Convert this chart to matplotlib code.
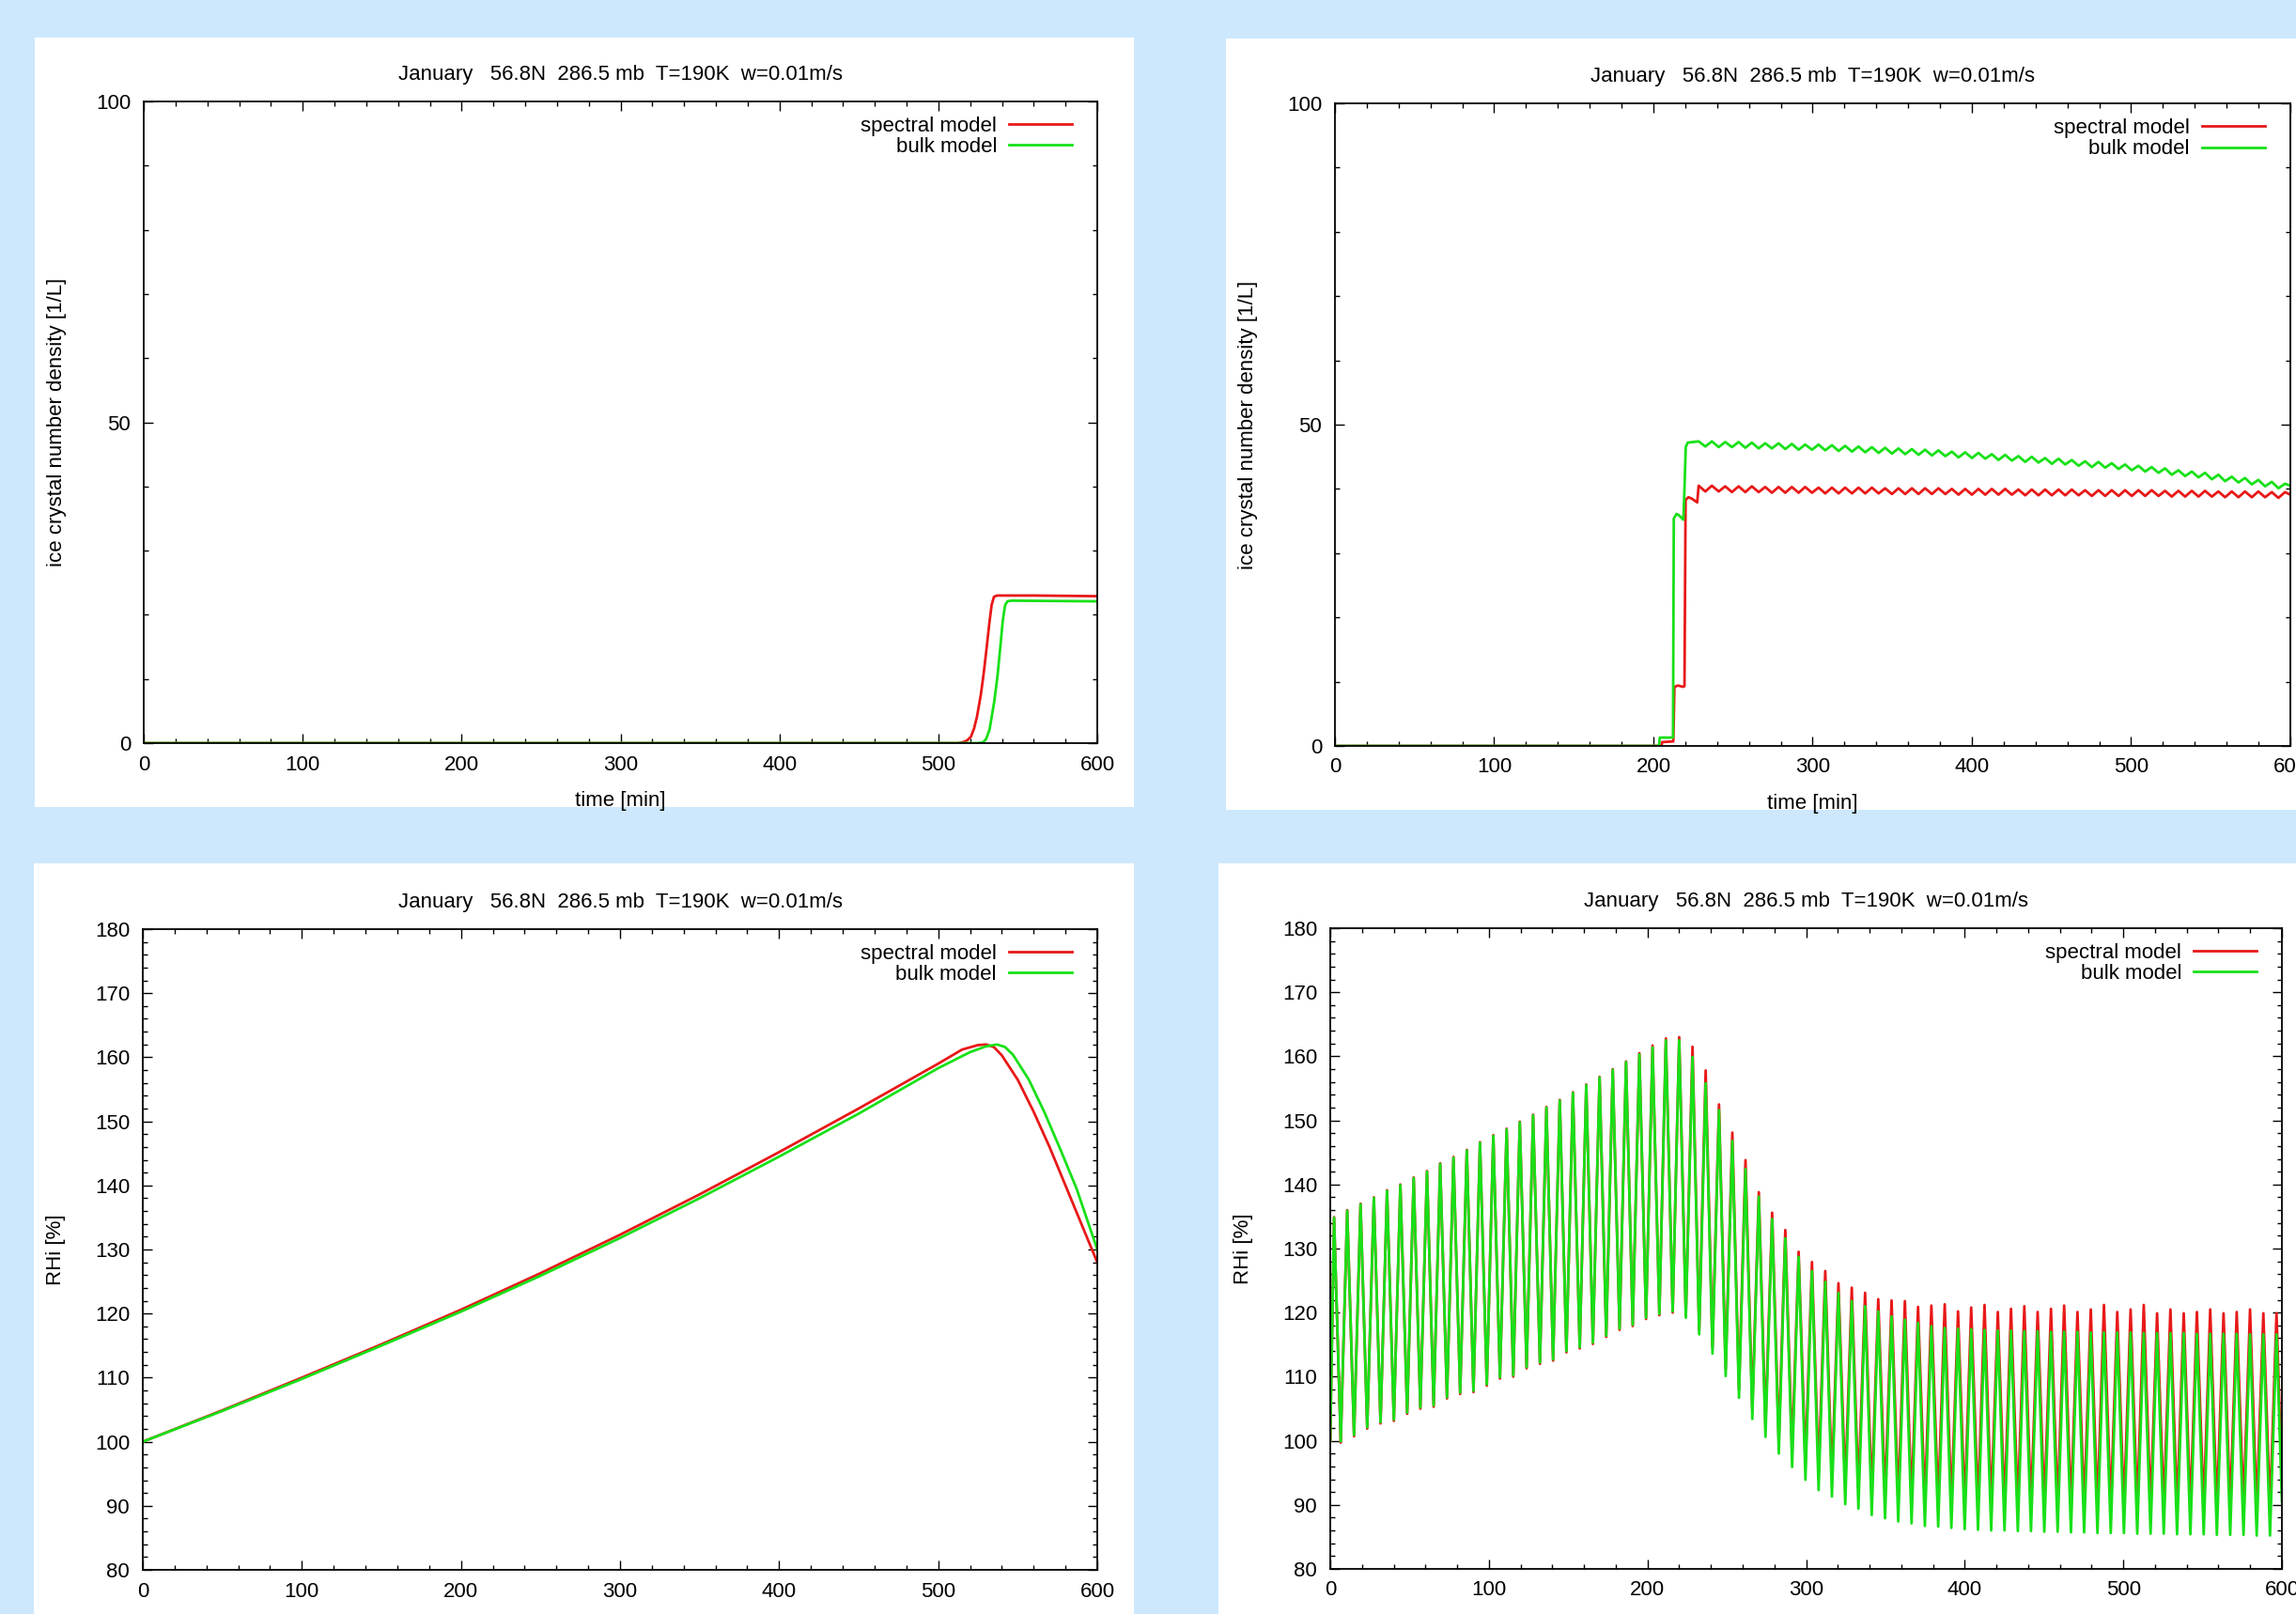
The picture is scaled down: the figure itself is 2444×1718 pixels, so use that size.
import numpy as np
import matplotlib
matplotlib.use("Agg")
import matplotlib.pyplot as plt
from matplotlib.patches import Rectangle
from matplotlib.ticker import MultipleLocator

plt.rcParams["font.family"] = ["Liberation Sans", "DejaVu Sans"]
plt.rcParams["font.size"] = 16

# ---- data ----
title = "January   56.8N  286.5 mb  T=190K  w=0.01m/s"
labels = ["spectral model", "bulk model"]
colors = ["#e81818", "#18e018"]

# panel 1: steady case, ice crystal number density
t1_red = [0, 512, 515, 518, 520.5, 522.5, 524.3, 526.7, 528.3, 530, 532, 533.5, 535, 537, 560, 600]
n1_red = [0, 0, 0.1, 0.4, 1.0, 2.3, 4.1, 7.5, 10.4, 14.0, 18.5, 21.5, 22.8, 23.0, 23.0, 22.9]
t1_green = [0, 525, 528, 530, 532.2, 535.2, 537.2, 539, 540.5, 542, 543.5, 546, 600]
n1_green = [0, 0, 0.1, 0.6, 2.1, 6.5, 10.4, 15.0, 19.0, 21.5, 22.1, 22.2, 22.1]

# panel 3: steady case, RHi
t3_red = [0, 50, 100, 150, 200, 250, 300, 350, 400, 450, 500, 515, 525, 530, 535, 540,
          550, 560, 570, 580, 590, 600]
rhi3_red = [100, 104.9, 110.0, 115.2, 120.6, 126.3, 132.3, 138.6, 145.2, 152.0, 159.0, 161.2,
            161.9, 162.0, 161.6, 160.3, 156.5, 151.5, 146.0, 140.0, 134.0, 128.0]
t3_green = [0, 50, 100, 150, 200, 250, 300, 350, 400, 450, 500, 520, 530, 537, 542, 547,
            557, 567, 577, 587, 600]
rhi3_green = [100, 104.8, 109.8, 115.0, 120.3, 125.9, 131.8, 138.0, 144.5, 151.2, 158.3, 160.8,
              161.7, 162.0, 161.6, 160.4, 156.5, 151.3, 145.5, 139.5, 130.0]

# wave case: times of the RHi maxima and minima
t_peak = [2.4, 10.7, 19.1, 27.5, 35.8, 44.2, 52.6, 61.0, 69.3, 77.7,
          86.1, 94.4, 102.8, 111.2, 119.5, 127.9, 136.3, 144.7, 153.0, 161.4,
          169.8, 178.1, 186.5, 194.9, 203.2, 211.6, 220.0, 228.4, 236.7, 245.1,
          253.5, 261.8, 270.2, 278.6, 286.9, 295.3, 303.7, 312.1, 320.4, 328.8,
          337.2, 345.5, 353.9, 362.3, 370.6, 379.0, 387.4, 395.8, 404.1, 412.5,
          420.9, 429.2, 437.6, 446.0, 454.4, 462.7, 471.1, 479.5, 487.8, 496.2,
          504.6, 512.9, 521.3, 529.7, 538.1, 546.4, 554.8, 563.2, 571.5, 579.9,
          588.3, 596.6]
t_trough = [6.6, 15.0, 23.3, 31.7, 40.1, 48.5, 56.8, 65.2, 73.6, 81.9,
            90.3, 98.7, 107.0, 115.4, 123.8, 132.2, 140.5, 148.9, 157.3, 165.6,
            174.0, 182.4, 190.7, 199.1, 207.5, 215.9, 224.2, 232.6, 241.0, 249.3,
            257.7, 266.1, 274.4, 282.8, 291.2, 299.6, 307.9, 316.3, 324.7, 333.0,
            341.4, 349.8, 358.1, 366.5, 374.9, 383.3, 391.6, 400.0, 408.4, 416.7,
            425.1, 433.5, 441.8, 450.2, 458.6, 467.0, 475.3, 483.7, 492.1, 500.4,
            508.8, 517.2, 525.5, 533.9, 542.3, 550.7, 559.0, 567.4, 575.8, 584.1,
            592.5]

# panel 4: wave case, RHi maxima / minima
rhi4_green_max = [134.8, 135.9, 136.9, 137.9, 139.0, 139.9, 141.0, 142.0, 143.2, 144.2,
                  145.3, 146.5, 147.6, 148.6, 149.7, 150.8, 152.0, 153.1, 154.3, 155.5,
                  156.7, 157.9, 159.1, 160.3, 161.4, 162.5, 162.5, 159.9, 155.8, 151.6,
                  146.8, 142.4, 138.1, 134.6, 131.6, 128.7, 126.5, 124.8, 123.1, 121.8,
                  121.0, 120.2, 119.4, 118.9, 118.4, 117.9, 117.6, 117.5, 117.4, 117.3,
                  117.2, 117.2, 117.1, 117.1, 117.0, 117.0, 117.0, 116.9, 116.9, 116.9,
                  116.9, 116.8, 116.8, 116.8, 116.8, 116.7, 116.7, 116.7, 116.7, 116.6,
                  116.6, 116.6]
rhi4_red_max = [134.9, 136.0, 137.0, 138.0, 139.1, 140.0, 141.1, 142.1, 143.3, 144.3,
                145.4, 146.6, 147.7, 148.7, 149.8, 150.9, 152.1, 153.2, 154.4, 155.6,
                156.8, 158.0, 159.2, 160.5, 161.7, 162.8, 163.0, 161.5, 157.8, 152.5,
                148.1, 143.8, 138.8, 135.6, 132.9, 129.5, 127.9, 126.5, 124.6, 123.9,
                123.1, 122.1, 121.9, 121.8, 120.9, 121.1, 121.3, 120.2, 120.8, 121.2,
                120.1, 120.6, 121.0, 120.1, 120.6, 121.1, 120.1, 120.5, 121.2, 120.1,
                120.5, 121.2, 119.9, 120.5, 119.9, 120.1, 120.5, 119.9, 120.1, 120.5,
                119.9, 119.9]
rhi4_green_min = [99.9, 100.9, 102.1, 102.9, 103.3, 104.4, 105.2, 105.5, 106.8, 107.5,
                  107.8, 108.8, 109.9, 110.2, 111.5, 112.2, 112.7, 114.0, 114.6, 115.3,
                  116.4, 117.5, 118.1, 119.2, 119.8, 120.2, 119.2, 116.6, 113.6, 110.1,
                  106.7, 103.4, 100.6, 98.0, 95.9, 93.9, 92.3, 91.3, 90.1, 89.4,
                  88.4, 87.9, 87.4, 87.1, 86.7, 86.6, 86.4, 86.2, 86.1, 86.0,
                  86.0, 85.9, 85.9, 85.8, 85.8, 85.7, 85.7, 85.6, 85.6, 85.6,
                  85.5, 85.5, 85.5, 85.4, 85.4, 85.4, 85.3, 85.3, 85.3, 85.2,
                  85.2]
rhi4_red_min = [99.7, 100.7, 101.9, 102.7, 103.1, 104.2, 105.0, 105.3, 106.6, 107.3,
                107.6, 108.6, 109.7, 110.0, 111.3, 112.0, 112.5, 113.8, 114.4, 115.1,
                116.2, 117.3, 117.9, 119.0, 119.6, 120.0, 119.5, 117.2, 114.5, 111.2,
                108.0, 105.0, 102.4, 100.0, 98.2, 96.4, 95.0, 94.0, 93.0, 92.4,
                91.6, 91.2, 90.8, 90.6, 90.3, 90.2, 90.0, 89.9, 89.9, 89.9,
                89.8, 89.8, 89.8, 89.8, 89.7, 89.7, 89.7, 89.7, 89.7, 89.6,
                89.6, 89.6, 89.6, 89.6, 89.5, 89.5, 89.5, 89.5, 89.5, 89.4,
                89.4]
rhi4_start = [100.0, 100.0]   # red, green at t = 0
rhi4_end = [93.0, 90.5]       # red, green at t = 600

# panel 2: wave case, ice crystal number density
t2_red_rise = [0, 205, 205.5, 212.5, 213.2, 215.5, 218.5, 219.5, 220.2, 222, 224, 227.5]
n2_red_rise = [0, 0, 0.6, 0.7, 9.2, 9.4, 9.2, 9.3, 38.3, 38.7, 38.5, 37.9]
t2_green_rise = [0, 203.5, 204, 212.3, 212.8, 214.5, 216, 218.8, 219.5, 220.3, 221.5]
n2_green_rise = [0, 0, 1.3, 1.3, 35.4, 36.1, 35.9, 35.2, 40.0, 46.5, 47.2]
# wiggles after 228 min (high values at t_peak[27:], low values at t_trough[27:])
n2_green_hi = [47.4, 47.4, 47.3, 47.3, 47.2, 47.1, 47.1, 47.0, 46.9, 46.9, 46.8, 46.7,
               46.6, 46.5, 46.4, 46.3, 46.2, 46.1, 46.0, 45.8, 45.7, 45.6, 45.4, 45.3,
               45.1, 45.0, 44.8, 44.7, 44.5, 44.3, 44.2, 44.0, 43.8, 43.6, 43.4, 43.2,
               42.9, 42.7, 42.5, 42.2, 41.9, 41.7, 41.4, 41.1, 40.8]
n2_green_lo = [46.6, 46.5, 46.5, 46.4, 46.3, 46.3, 46.2, 46.1, 46.1, 46.0, 45.9, 45.8,
               45.7, 45.6, 45.5, 45.4, 45.3, 45.2, 45.1, 44.9, 44.8, 44.7, 44.5, 44.4,
               44.2, 44.1, 43.9, 43.8, 43.6, 43.4, 43.3, 43.1, 42.9, 42.7, 42.5, 42.2,
               42.0, 41.8, 41.5, 41.2, 41.0, 40.7, 40.4, 40.1]
n2_red_hi = [40.5, 40.5, 40.4, 40.4, 40.4, 40.3, 40.3, 40.3, 40.3, 40.2, 40.2, 40.2,
             40.2, 40.2, 40.1, 40.1, 40.1, 40.1, 40.1, 40.0, 40.0, 40.0, 40.0, 40.0,
             39.9, 39.9, 39.9, 39.9, 39.9, 39.8, 39.8, 39.8, 39.8, 39.8, 39.8, 39.7,
             39.7, 39.7, 39.7, 39.6, 39.6, 39.6, 39.6, 39.5, 39.5]
n2_red_lo = [39.6, 39.6, 39.5, 39.5, 39.5, 39.4, 39.4, 39.4, 39.4, 39.3, 39.3, 39.3,
             39.3, 39.3, 39.2, 39.2, 39.2, 39.2, 39.2, 39.1, 39.1, 39.1, 39.1, 39.1,
             39.0, 39.0, 39.0, 39.0, 39.0, 38.9, 38.9, 38.9, 38.9, 38.9, 38.9, 38.8,
             38.8, 38.8, 38.8, 38.7, 38.7, 38.7, 38.7, 38.6]
n2_end = [39.1, 40.5]         # red, green at t = 600


def join(*parts):
    # put (t, value) pieces together in time order
    t = np.concatenate([np.asarray(p[0], float) for p in parts])
    v = np.concatenate([np.asarray(p[1], float) for p in parts])
    order = np.argsort(t, kind="stable")
    return t[order], v[order]


# ---- layout (pixels of the 2444x1718 picture) ----
W, H = 2444, 1718
bg = "#cde8fd"

fig = plt.figure(figsize=(W / 100, H / 100), dpi=100, facecolor=bg)

panels = [(37, 40, 1207, 859), (1305, 41, 2460, 862),
          (36, 919, 1207, 1730), (1297, 919, 2460, 1730)]
for x0, y0, x1, y1 in panels:
    fig.add_artist(Rectangle((x0 / W, 1 - y1 / H), (x1 - x0) / W, (y1 - y0) / H,
                             transform=fig.transFigure, facecolor="white",
                             edgecolor="none", zorder=0))

boxes = [(153, 108, 1168, 791), (1421, 110, 2438, 794),
         (152, 989, 1168, 1671), (1416, 988, 2429, 1670)]
axes = []
for x0, y0, x1, y1 in boxes:
    ax = fig.add_axes([x0 / W, 1 - y1 / H, (x1 - x0) / W, (y1 - y0) / H])
    axes.append(ax)

ax1, ax2, ax3, ax4 = axes
lw = 2.0

# panel 1
ax1.plot(t1_red, n1_red, color=colors[0], lw=lw, label=labels[0])
ax1.plot(t1_green, n1_green, color=colors[1], lw=lw, label=labels[1])

# panel 2
tr, vr = join((t2_red_rise, n2_red_rise), (t_peak[27:], n2_red_hi),
              (t_trough[27:], n2_red_lo), ([600], n2_end[:1]))
tg, vg = join((t2_green_rise, n2_green_rise), (t_peak[27:], n2_green_hi),
              (t_trough[27:], n2_green_lo), ([600], n2_end[1:]))
ax2.plot(tr, vr, color=colors[0], lw=lw, label=labels[0])
ax2.plot(tg, vg, color=colors[1], lw=lw, label=labels[1])

# panel 3
ax3.plot(t3_red, rhi3_red, color=colors[0], lw=lw, label=labels[0])
ax3.plot(t3_green, rhi3_green, color=colors[1], lw=lw, label=labels[1])

# panel 4
tr, vr = join(([0], rhi4_start[:1]), (t_peak, rhi4_red_max),
              (t_trough, rhi4_red_min), ([600], rhi4_end[:1]))
tg, vg = join(([0], rhi4_start[1:]), (t_peak, rhi4_green_max),
              (t_trough, rhi4_green_min), ([600], rhi4_end[1:]))
ax4.plot(tr, vr, color=colors[0], lw=lw, label=labels[0])
ax4.plot(tg, vg, color=colors[1], lw=lw, label=labels[1])

for i, ax in enumerate(axes):
    top = i < 2
    ax.set_xlim(0, 600)
    ax.xaxis.set_major_locator(MultipleLocator(100))
    ax.xaxis.set_minor_locator(MultipleLocator(20))
    if top:
        ax.set_ylim(0, 100)
        ax.yaxis.set_major_locator(MultipleLocator(50))
        ax.yaxis.set_minor_locator(MultipleLocator(10))
        ax.set_ylabel("ice crystal number density [1/L]")
    else:
        ax.set_ylim(80, 180)
        ax.yaxis.set_major_locator(MultipleLocator(10))
        ax.yaxis.set_minor_locator(MultipleLocator(2))
        ax.set_ylabel("RHi [%]")
    ax.yaxis.set_label_coords(-0.081, 0.5)
    ax.set_xlabel("time [min]", labelpad=12.5)
    ax.set_title(title, pad=16.5, fontsize=16)
    ax.tick_params(which="both", direction="in", top=True, right=True, width=1.0)
    ax.tick_params(which="major", length=7)
    ax.tick_params(which="minor", length=3.5)
    ax.tick_params(axis="x", pad=9)
    ax.tick_params(axis="y", pad=10)
    for s in ax.spines.values():
        s.set_linewidth(1.3)
    ax.legend(loc="upper right", bbox_to_anchor=(0.9734, 0.977), frameon=False,
              markerfirst=False, handlelength=3.0, handletextpad=0.6,
              labelspacing=0.07, borderpad=0, borderaxespad=0, fontsize=16)

fig.savefig("out.png", dpi=100, facecolor=bg)
